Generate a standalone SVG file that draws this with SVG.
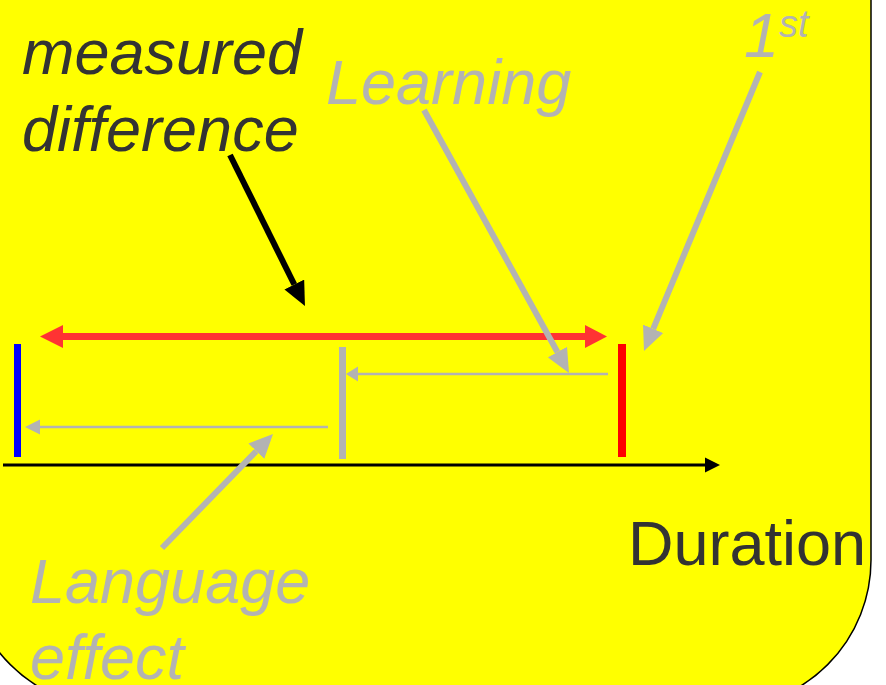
<svg xmlns="http://www.w3.org/2000/svg" width="886" height="685" viewBox="0 0 886 685">
  <style>
    .lbl { font-family: "Liberation Sans", Arial, sans-serif; font-size: 63px; }
    .ital { font-style: italic; }
    .dark { fill: #333333; }
    .grey { fill: #b3b3b3; }
    .gline { stroke: #b3b3b3; fill: none; }
  </style>
  <defs>
    <marker id="headGrey" markerUnits="userSpaceOnUse" markerWidth="24" markerHeight="22" viewBox="0 0 24 22" refX="0" refY="11" orient="auto">
      <path d="M0,0 L24,11 L0,22 z" fill="#b3b3b3"/>
    </marker>
    <marker id="headBlack" markerUnits="userSpaceOnUse" markerWidth="24" markerHeight="22" viewBox="0 0 24 22" refX="0" refY="11" orient="auto">
      <path d="M0,0 L24,11 L0,22 z" fill="#000000"/>
    </marker>
  </defs>

  <rect id="background" x="-33" y="-300" width="904" height="1008" rx="148" ry="148" fill="#ffff00" stroke="#000000" stroke-width="1.5"/>

  <g id="markers">
    <rect id="blue-mark" x="14" y="344" width="7" height="113" fill="#0000ff"/>
    <rect id="grey-mark" x="339" y="347" width="7" height="112" fill="#b3b3b3"/>
    <rect id="red-mark" x="618" y="344" width="8" height="113" fill="#ff0000"/>
  </g>

  <g id="connectors">
    <!-- duration axis -->
    <line x1="3" y1="465" x2="705" y2="465" stroke="#000000" stroke-width="3"/>
    <polygon points="720,465 705,457.5 705,472.5" fill="#000000"/>
    <!-- measured difference double arrow -->
    <line x1="62" y1="336.5" x2="586" y2="336.5" stroke="#ff3333" stroke-width="7"/>
    <polygon points="40,336.5 63,325 63,348" fill="#ff3333"/>
    <polygon points="607,336.5 585,325 585,348" fill="#ff3333"/>
    <!-- learning interval -->
    <line class="gline" x1="357" y1="374" x2="608" y2="374" stroke-width="2.5"/>
    <polygon points="346,374 358,366.5 358,381.5" fill="#b3b3b3"/>
    <!-- language interval -->
    <line class="gline" x1="39" y1="427" x2="328" y2="427" stroke-width="2.5"/>
    <polygon points="25,427 40,419.5 40,434.5" fill="#b3b3b3"/>
    <!-- label pointers -->
    <line x1="230" y1="155" x2="294.3" y2="284.5" stroke="#000000" stroke-width="6" marker-end="url(#headBlack)"/>
    <line class="gline" x1="424" y1="110" x2="557.4" y2="352" stroke-width="6" marker-end="url(#headGrey)"/>
    <line class="gline" x1="760" y1="72" x2="653.2" y2="328.8" stroke-width="6" marker-end="url(#headGrey)"/>
    <line class="gline" x1="162" y1="548" x2="256.3" y2="451.2" stroke-width="6" marker-end="url(#headGrey)"/>
  </g>

  <g id="label-measured">
    <text class="lbl ital dark" x="22" y="74">measured</text>
    <text class="lbl ital dark" x="22" y="151">difference</text>
  </g>
  <g id="label-learning">
    <text class="lbl ital grey" x="326" y="104">Learning</text>
  </g>
  <g id="label-first">
    <text class="lbl ital grey" x="744" y="57">1<tspan font-size="38" dy="-20">st</tspan></text>
  </g>
  <g id="label-duration">
    <text class="lbl dark" x="628" y="565">Duration</text>
  </g>
  <g id="label-language">
    <text class="lbl ital grey" x="30" y="603">Language</text>
    <text class="lbl ital grey" x="30" y="679">effect</text>
  </g>
</svg>
